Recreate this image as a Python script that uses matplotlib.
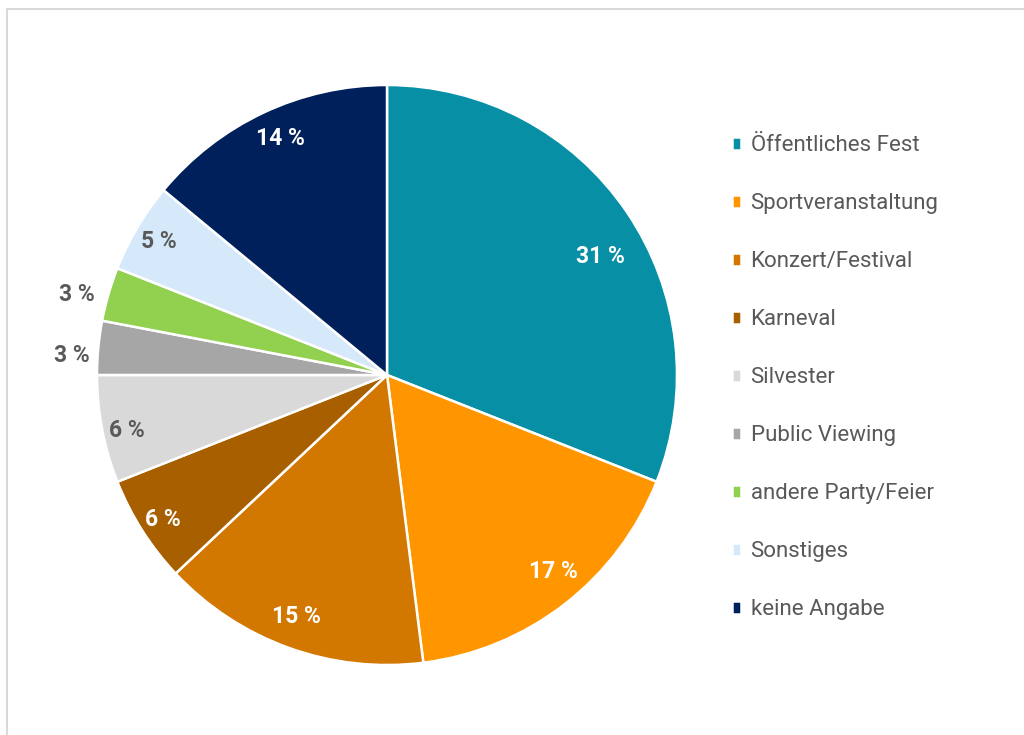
import matplotlib.pyplot as plt
import numpy as np

# Anteile (Prozent) je Veranstaltungsart
categories = ["Öffentliches Fest", "Sportveranstaltung", "Konzert/Festival", "Karneval",
              "Silvester", "Public Viewing", "andere Party/Feier", "Sonstiges", "keine Angabe"]
values = [31, 17, 15, 6, 6, 3, 3, 5, 14]
colors = ["#078FA5", "#FF9600", "#D27800", "#A85F00", "#D9D9D9", "#A6A6A6", "#92D050", "#D5E9FB", "#00205B"]
label_colors = ["white", "white", "white", "white", "#595959", "#595959", "#595959", "#595959", "white"]
# Lage der Beschriftung: Abstand (Anteil vom Radius) und Winkelkorrektur in Grad
label_radius = [0.845, 0.886, 0.887, 0.918, 0.916, 1.088, 1.106, 0.913, 0.897]
label_shift = [-4.9, 2.5, -0.7, 0.3, 1.1, 1.6, 1.4, 0.0, -0.9]

plt.rcParams['font.family'] = ['Roboto', 'DejaVu Sans']

fig = plt.figure(figsize=(10.24, 7.35), dpi=100)
ax = fig.add_axes([0, 0, 1, 1])

# Rahmen (nur oben/links sichtbar)
ax.plot([7, 7, 1030], [-5, 726, 726], color="#D9D9D9", lw=1.5, clip_on=False)

cx, cy, r = 387, 360, 290
wedges, _ = ax.pie(values, colors=colors, startangle=90, counterclock=False,
                   center=(cx, cy), radius=r, frame=True,
                   wedgeprops=dict(edgecolor="white", linewidth=1.8))
ax.set_xlim(0, 1024)
ax.set_ylim(0, 735)
ax.set_aspect('equal')
ax.axis('off')

total = sum(values)
start = 90.0
for v, lc, lr, sh in zip(values, label_colors, label_radius, label_shift):
    ang = np.deg2rad(start - v / total * 180 + sh)
    start -= v / total * 360
    ax.text(cx + lr * r * np.cos(ang), cy + lr * r * np.sin(ang) - 1, f"{v} %",
            ha="center", va="center", color=lc, fontsize=16.5, fontweight="bold")

ax.legend(wedges, categories, loc="upper left", bbox_to_anchor=(721 / 1024, 1 - 124 / 735),
          frameon=False, fontsize=16, labelcolor="#595959", handlelength=0.38, handleheight=0.5,
          handletextpad=0.45, labelspacing=1.665, borderpad=0)

plt.savefig("out.png", dpi=100)
